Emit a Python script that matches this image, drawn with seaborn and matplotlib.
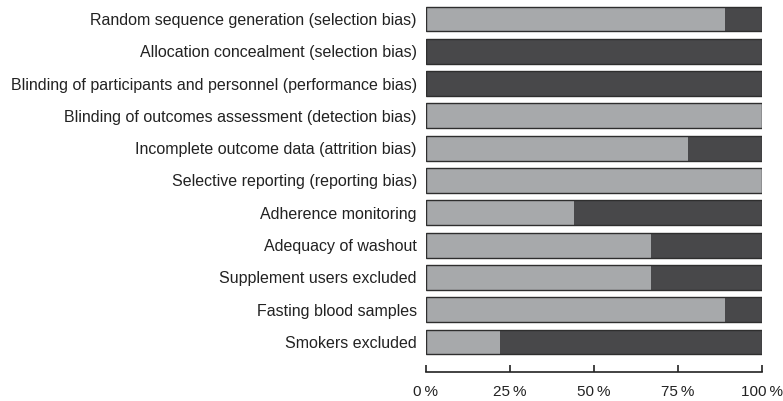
import pandas as pd
import seaborn as sns
import matplotlib.pyplot as plt

# Risk of bias domains and share of studies at low risk (%)
domains = [
    'Random sequence generation (selection bias)',
    'Allocation concealment (selection bias)',
    'Blinding of participants and personnel (performance bias)',
    'Blinding of outcomes assessment (detection bias)',
    'Incomplete outcome data (attrition bias)',
    'Selective reporting (reporting bias)',
    'Adherence monitoring',
    'Adequacy of washout',
    'Supplement users excluded',
    'Fasting blood samples',
    'Smokers excluded',
]
low_risk = [89, 0, 0, 100, 78, 100, 44, 67, 67, 89, 22]
total = [100] * len(domains)
tick_values = [0, 25, 50, 75, 100]
tick_labels = ['0\u2009%', '25\u2009%', '50\u2009%', '75\u2009%', '100\u2009%']

df = pd.DataFrame({'domain': domains, 'low': low_risk, 'total': total})

sns.set_style('white')
plt.rcParams['font.family'] = ['Liberation Sans', 'DejaVu Sans']

fig = plt.figure(figsize=(7.83, 4.01), dpi=100)
ax = fig.add_axes([0.544, 0.0723, 0.429, 0.9206])

# dark background bar (high / unclear risk), light part on top, outline last
sns.barplot(data=df, x='total', y='domain', orient='h', color='#48484a',
            saturation=1, width=0.77, linewidth=0, ax=ax)
sns.barplot(data=df, x='low', y='domain', orient='h', color='#a7a9ab',
            saturation=1, width=0.77, linewidth=0, ax=ax)
sns.barplot(data=df, x='total', y='domain', orient='h', color='#2e2e2e',
            fill=False, width=0.77, linewidth=1.0, ax=ax)

ax.set_xlim(0, 100)
ax.set_ylim(10.93, -0.5)
ax.set_xlabel('')
ax.set_ylabel('')
ax.set_xticks(tick_values)
ax.set_xticklabels(tick_labels, fontsize=11, color='#222222')
ax.tick_params(axis='x', direction='in', length=5, width=1.2, color='#222222', pad=9, bottom=True)
ax.tick_params(axis='y', length=0, pad=6.5, labelsize=11.5, labelcolor='#222222')

for side in ['top', 'right', 'left']:
    ax.spines[side].set_visible(False)
ax.spines['bottom'].set_color('#222222')
ax.spines['bottom'].set_linewidth(1.2)

fig.savefig('out.png', dpi=100)
